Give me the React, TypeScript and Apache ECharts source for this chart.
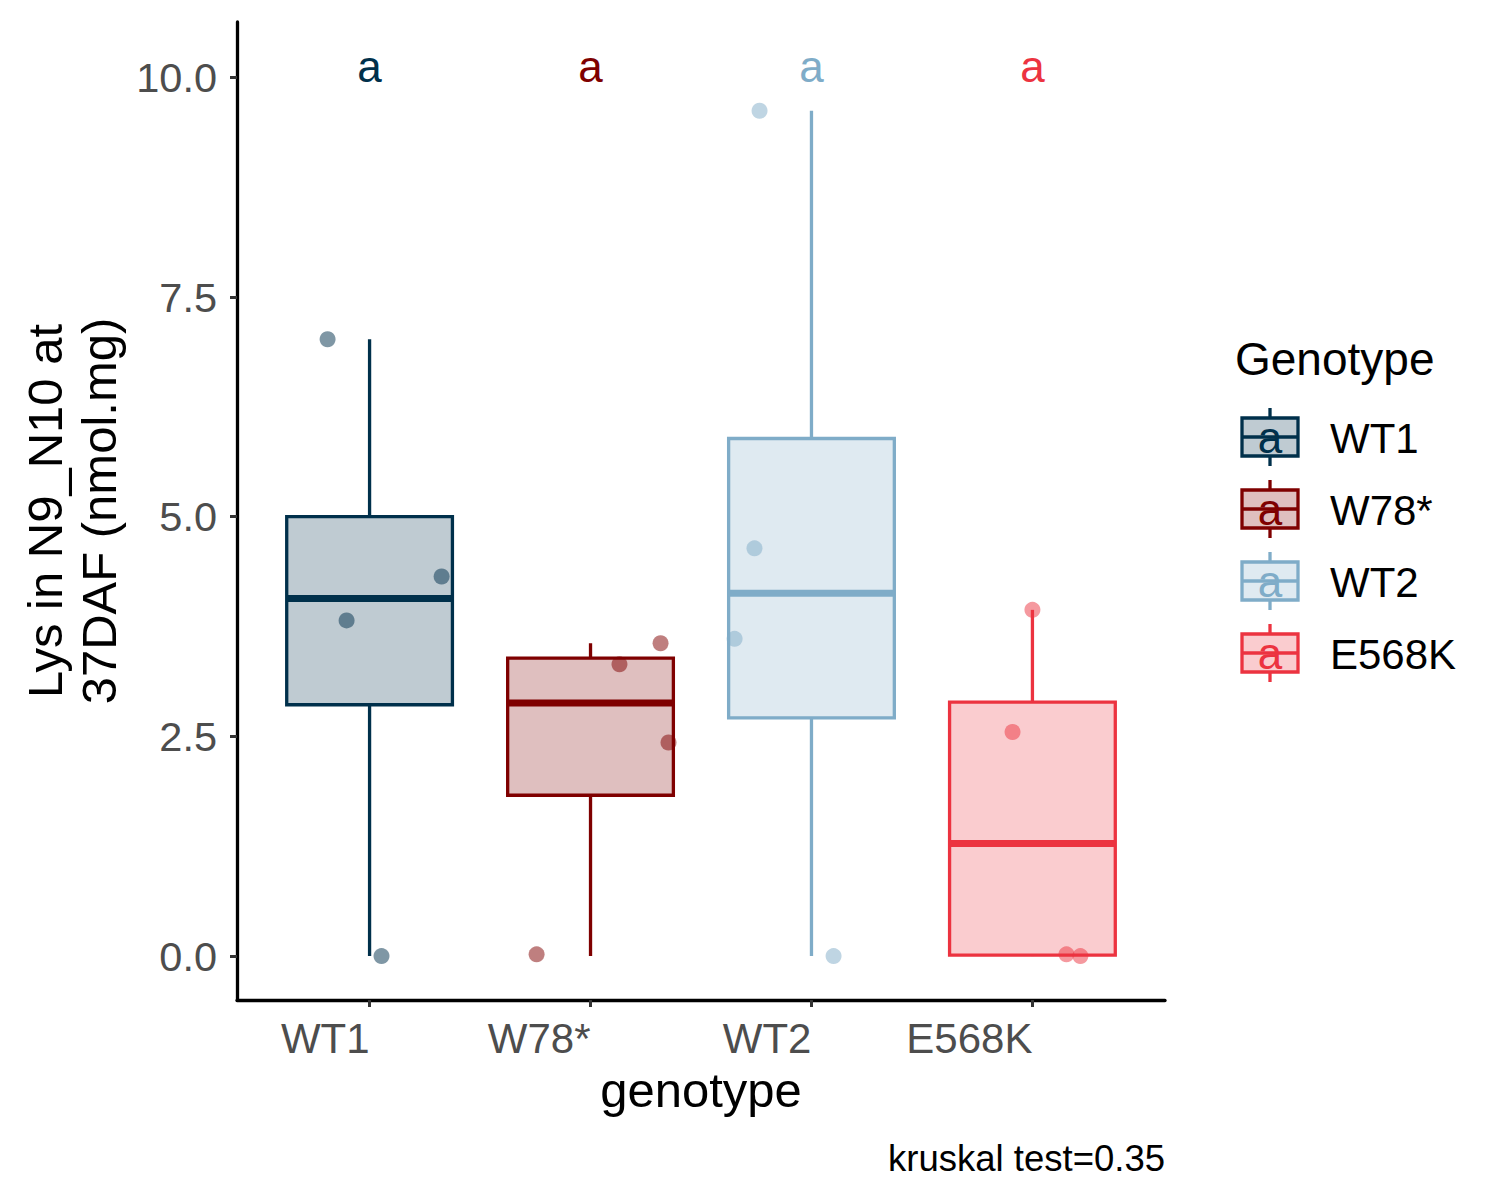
import React, { useEffect, useRef } from "react";
import * as echarts from "echarts";

const genotypes = ["WT1", "W78*", "WT2", "E568K"];
const lineColors = ["#00304B", "#7F0000", "#7FACC8", "#EC3340"];
const fillColors = ["rgba(0,48,75,0.25)", "rgba(127,0,0,0.25)", "rgba(127,172,200,0.25)", "rgba(236,51,64,0.25)"];

// box statistics
const boxMin = [0, 0, 0, 0];
const boxQ1 = [2.86, 1.83, 2.71, 0.01];
const boxMedian = [4.07, 2.88, 4.13, 1.28];
const boxQ3 = [5.0, 3.39, 5.89, 2.89];
const boxMax = [7.02, 3.56, 9.62, 3.94];

// jittered points (x position in category units, y value)
const ptsWT1X = [0.81, 0.896, 1.326, 1.054];
const ptsWT1Y = [7.02, 3.82, 4.32, 0.0];
const ptsW78X = [1.756, 2.131, 2.317, 2.353];
const ptsW78Y = [0.02, 3.32, 3.56, 2.43];
const ptsWT2X = [2.765, 2.742, 2.652, 3.1];
const ptsWT2Y = [9.62, 4.64, 3.61, 0.0];
const ptsE568X = [4.0, 3.91, 4.154, 4.217];
const ptsE568Y = [3.94, 2.55, 0.02, 0.0];

const pointsX = [ptsWT1X, ptsW78X, ptsWT2X, ptsE568X];
const pointsY = [ptsWT1Y, ptsW78Y, ptsWT2Y, ptsE568Y];

const letters = ["a", "a", "a", "a"];
const letterY = 10.12;

const yTicks = [0, 2.5, 5, 7.5, 10];
const xTicks = [1, 2, 3, 4];

const FONT = "'Liberation Sans', Arial, sans-serif";

export default function App() {
  const ref = useRef<HTMLDivElement>(null);

  useEffect(() => {
    document.body.style.margin = "0";
    if (!ref.current) return;
    const chart = echarts.init(ref.current, undefined, { renderer: "svg" });

    const boxData = genotypes.map((_, i) => [i + 1, boxMin[i], boxQ1[i], boxMedian[i], boxQ3[i], boxMax[i]]);

    const scatterSeries = genotypes.map((g, i) => ({
      type: "scatter",
      name: g,
      z: 3,
      symbolSize: 16,
      itemStyle: { color: lineColors[i], opacity: 0.5 },
      data: pointsX[i].map((x, j) => [x, pointsY[i][j]]),
    }));

    const legendGraphics: any[] = [
      {
        type: "text",
        x: 1235,
        y: 359,
        style: { text: "Genotype", font: `46px ${FONT}`, fill: "#000", textAlign: "left", textVerticalAlign: "middle" },
      },
    ];
    genotypes.forEach((g, i) => {
      const cy = 437 + i * 72;
      const cx = 1270;
      legendGraphics.push(
        { type: "line", shape: { x1: cx, y1: cy - 29, x2: cx, y2: cy - 19 }, style: { stroke: lineColors[i], lineWidth: 3.3 } },
        { type: "line", shape: { x1: cx, y1: cy + 19, x2: cx, y2: cy + 29 }, style: { stroke: lineColors[i], lineWidth: 3.3 } },
        {
          type: "rect",
          shape: { x: 1242, y: cy - 19, width: 56, height: 38 },
          style: { fill: fillColors[i], stroke: lineColors[i], lineWidth: 3.3 },
        },
        { type: "line", shape: { x1: 1242, y1: cy, x2: 1298, y2: cy }, style: { stroke: lineColors[i], lineWidth: 3.3 } },
        {
          type: "text",
          x: cx,
          y: cy,
          style: { text: letters[i], font: `44px ${FONT}`, fill: lineColors[i], textAlign: "center", textVerticalAlign: "middle" },
        },
        {
          type: "text",
          x: 1330,
          y: cy + 1,
          style: { text: g, font: `42px ${FONT}`, fill: "#000", textAlign: "left", textVerticalAlign: "middle" },
        }
      );
    });

    const option: any = {
      animation: false,
      backgroundColor: "#fff",
      grid: { left: 237, right: 335, top: 22, bottom: 200, containLabel: false },
      xAxis: {
        type: "value",
        min: 0.4,
        max: 4.6,
        splitLine: { show: false },
        axisLine: { show: true, onZero: false, lineStyle: { color: "#000", width: 3.3 } },
        axisTick: { show: true, customValues: xTicks, length: 7, lineStyle: { color: "#333", width: 3 } },
        axisLabel: {
          customValues: xTicks,
          formatter: (v: number) => genotypes[Math.round(v) - 1] ?? "",
          align: "right",
          verticalAlign: "middle",
          margin: 38,
          fontSize: 42,
          fontFamily: FONT,
          color: "#4D4D4D",
        },
      },
      yAxis: {
        type: "value",
        min: -0.5,
        max: 10.63,
        splitLine: { show: false },
        axisLine: { show: true, onZero: false, lineStyle: { color: "#000", width: 3.3 } },
        axisTick: { show: true, customValues: yTicks, length: 7, lineStyle: { color: "#333", width: 3 } },
        axisLabel: {
          customValues: yTicks,
          formatter: (v: number) => v.toFixed(1),
          align: "right",
          verticalAlign: "middle",
          margin: 20,
          fontSize: 41.5,
          fontFamily: FONT,
          color: "#4D4D4D",
        },
      },
      series: [
        {
          type: "custom",
          z: 2,
          data: boxData,
          encode: { x: 0, y: [1, 2, 3, 4, 5] },
          renderItem: (params: any, api: any) => {
            const i = params.dataIndex;
            const x = api.value(0);
            const lo = api.coord([x, api.value(1)]);
            const q1 = api.coord([x, api.value(2)]);
            const md = api.coord([x, api.value(3)]);
            const q3 = api.coord([x, api.value(4)]);
            const hi = api.coord([x, api.value(5)]);
            const hw = api.size([0.75, 0])[0] / 2;
            const c = lineColors[i];
            return {
              type: "group",
              children: [
                { type: "line", shape: { x1: lo[0], y1: lo[1], x2: q1[0], y2: q1[1] }, style: { stroke: c, lineWidth: 3.3 } },
                { type: "line", shape: { x1: q3[0], y1: q3[1], x2: hi[0], y2: hi[1] }, style: { stroke: c, lineWidth: 3.3 } },
                {
                  type: "rect",
                  shape: { x: q3[0] - hw, y: q3[1], width: 2 * hw, height: q1[1] - q3[1] },
                  style: { fill: fillColors[i], stroke: c, lineWidth: 3.3 },
                },
                { type: "line", shape: { x1: md[0] - hw, y1: md[1], x2: md[0] + hw, y2: md[1] }, style: { stroke: c, lineWidth: 7 } },
              ],
            };
          },
        },
        ...scatterSeries,
        {
          type: "custom",
          z: 4,
          data: genotypes.map((_, i) => [i + 1, letterY]),
          encode: { x: 0, y: 1 },
          renderItem: (params: any, api: any) => {
            const p = api.coord([api.value(0), api.value(1)]);
            return {
              type: "text",
              x: p[0],
              y: p[1],
              style: {
                text: letters[params.dataIndex],
                font: `44px ${FONT}`,
                fill: lineColors[params.dataIndex],
                textAlign: "center",
                textVerticalAlign: "middle",
              },
            };
          },
        },
      ],
      graphic: [
        {
          type: "text",
          x: 72,
          y: 511,
          rotation: Math.PI / 2,
          style: {
            text: "Lys in N9_N10 at\n37DAF (nmol.mg)",
            font: `49px ${FONT}`,
            lineHeight: 54,
            fill: "#000",
            textAlign: "center",
            textVerticalAlign: "middle",
          },
        },
        {
          type: "text",
          x: 701,
          y: 1090,
          style: { text: "genotype", font: `49px ${FONT}`, fill: "#000", textAlign: "center", textVerticalAlign: "middle" },
        },
        {
          type: "text",
          x: 1165,
          y: 1158,
          style: { text: "kruskal test=0.35", font: `36.5px ${FONT}`, fill: "#000", textAlign: "right", textVerticalAlign: "middle" },
        },
        ...legendGraphics,
      ],
    };

    chart.setOption(option);
    return () => chart.dispose();
  }, []);

  return <div ref={ref} style={{ width: 1500, height: 1200 }} />;
}
